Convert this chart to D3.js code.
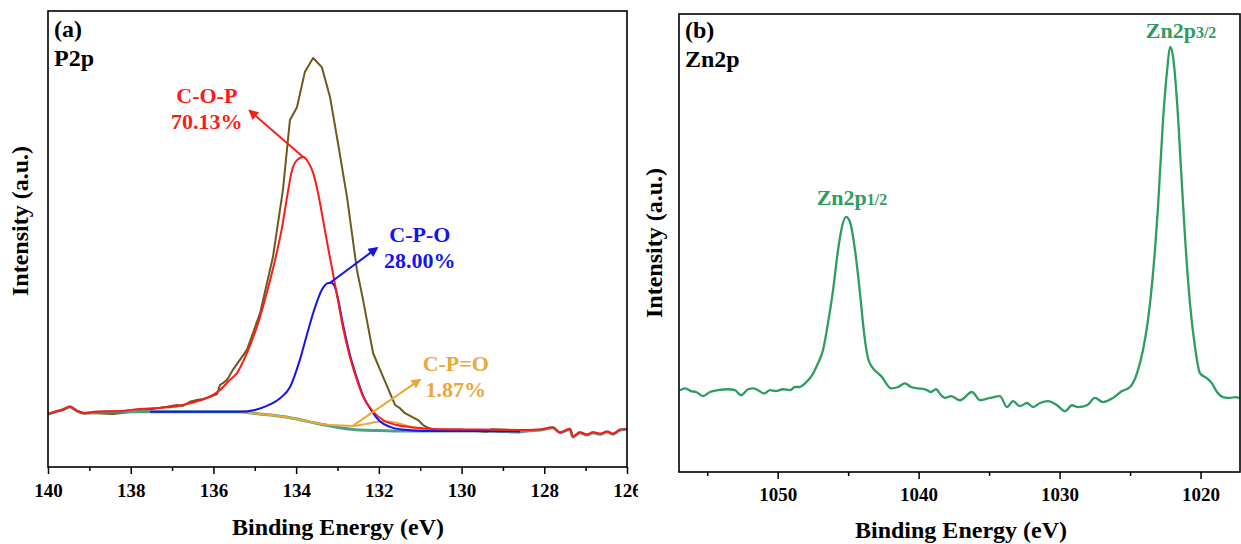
<!DOCTYPE html>
<html><head><meta charset="utf-8">
<script src="https://cdn.jsdelivr.net/npm/d3@7"></script>
<style>
body{margin:0;background:#fff;}
svg text{font-family:"Liberation Serif","Times New Roman",serif;font-weight:bold;}
</style></head><body>
<svg id="chart" width="1241" height="544"></svg>
<script>
// ---------------- DATA ----------------
const p2pTicks = [140,138,136,134,132,130,128,126];
const p2pMinorTicks = [139,137,135,133,131,129,127];
const zn2pTicks = [1050,1040,1030,1020];
const zn2pMinorTicks = [1055,1045,1035,1025];

// P2p: [binding energy (eV), intensity (a.u.)]
const p2pEnvelope = [[140.00,11.6],[139.83,12.1],[139.66,12.5],[139.47,13.2],[139.30,12.3],[139.13,11.8],[138.82,11.8],[138.43,11.6],[137.78,12.3],[137.36,12.9],[137.12,13.2],[136.88,13.6],[136.74,13.4],[136.57,14.3],[136.40,14.7],[136.25,14.9],[136.08,15.4],[135.91,16.0],[135.84,18.0],[135.77,18.4],[135.67,19.1],[135.53,21.3],[135.19,25.7],[134.87,33.8],[134.56,46.1],[134.32,60.7],[134.15,76.1],[133.98,78.9],[133.79,86.6],[133.59,89.7],[133.38,87.7],[133.18,81.1],[132.99,71.1],[132.77,59.2],[132.53,43.2],[132.38,36.6],[132.29,32.2],[132.14,25.0],[131.97,21.3],[131.73,16.2],[131.61,13.6],[131.49,12.9],[131.37,11.8],[131.20,11.0],[131.05,10.3],[130.93,9.2],[130.81,8.6],[130.69,8.3],[130.04,8.2],[129.39,7.7],[129.27,8.3],[128.59,8.1],[128.10,8.1],[127.79,8.6],[127.62,7.5],[127.38,8.3],[127.31,6.6],[127.14,7.5],[126.97,7.0],[126.82,7.5],[126.65,7.2],[126.48,7.7],[126.34,7.2],[126.17,8.1],[126.00,8.3]];
const p2pBackground = [[140.00,11.6],[139.83,12.1],[139.66,12.5],[139.47,13.2],[139.30,12.3],[139.13,11.8],[138.86,12.0],[138.26,12.1],[137.29,12.1],[136.33,12.1],[135.36,12.1],[135.04,11.8],[134.63,11.4],[134.15,10.8],[133.67,9.9],[133.30,9.2],[132.94,8.6],[132.46,8.1],[131.97,8.0],[131.25,7.9],[130.52,7.9],[130.04,7.9],[129.56,7.9],[129.07,7.8],[128.59,7.7],[128.42,7.9],[128.10,8.1],[127.79,8.6],[127.62,7.5],[127.38,8.3],[127.31,6.6],[127.14,7.5],[126.97,7.0],[126.82,7.5],[126.65,7.2],[126.48,7.7],[126.34,7.2],[126.17,8.1],[126.00,8.3]];
const p2pCOP = [[140.00,11.6],[139.83,12.1],[139.66,12.5],[139.47,13.2],[139.30,12.3],[139.13,11.8],[138.86,12.1],[138.26,12.3],[137.78,12.7],[136.98,13.2],[136.57,14.0],[136.16,15.1],[135.84,16.9],[135.60,19.1],[135.43,20.6],[135.19,25.0],[134.95,30.7],[134.71,38.2],[134.51,45.4],[134.34,52.6],[134.22,59.2],[134.10,65.1],[133.98,67.3],[133.83,68.0],[133.71,66.9],[133.59,64.5],[133.47,60.1],[133.35,54.2],[133.23,48.2],[133.11,42.5],[132.99,36.6],[132.87,30.7],[132.70,24.1],[132.53,19.1],[132.38,15.4],[132.17,12.5],[131.90,10.3],[131.56,9.2],[131.08,8.6],[130.59,8.3],[129.56,8.2],[128.42,8.1],[128.10,8.2],[127.79,8.7],[127.62,7.6],[127.38,8.4],[127.31,6.7],[127.14,7.6],[126.97,7.1],[126.82,7.6],[126.65,7.3],[126.48,7.8],[126.34,7.3],[126.17,8.2],[126.00,8.4]];
const p2pCPO = [[137.53,12.1],[136.33,12.1],[135.36,12.1],[135.00,12.5],[134.71,13.4],[134.39,15.1],[134.15,17.5],[133.91,23.5],[133.71,30.0],[133.54,35.1],[133.38,38.8],[133.24,40.3],[133.15,40.4],[133.07,39.6],[132.99,37.0],[132.87,31.4],[132.70,24.6],[132.53,19.5],[132.38,15.6],[132.17,12.2],[131.97,10.0],[131.73,8.8],[131.42,8.2],[130.93,7.9],[130.45,7.9],[129.56,7.9],[128.59,7.8]];
const p2pCPdO = [[135.36,12.1],[135.04,11.8],[134.63,11.4],[134.15,10.8],[133.67,9.9],[133.30,9.3],[132.94,9.1],[132.63,9.0],[132.33,9.4],[132.04,9.9],[131.78,10.0],[131.49,9.5],[131.20,8.8],[130.88,8.2],[130.52,8.0],[129.80,7.9]];

// Zn2p: [binding energy (eV), intensity (a.u.)]
const zn2pSpectrum = [[1056.93,17.5],[1056.57,17.9],[1056.15,17.3],[1055.79,17.1],[1055.30,16.2],[1054.80,17.1],[1054.23,17.5],[1053.52,17.7],[1053.03,17.5],[1052.60,16.4],[1052.10,17.7],[1051.75,17.9],[1051.40,17.5],[1050.97,16.8],[1050.54,17.5],[1050.12,17.3],[1049.62,17.7],[1049.12,17.5],[1048.77,18.2],[1048.42,18.2],[1048.06,19.0],[1047.64,20.4],[1047.14,23.4],[1046.78,26.3],[1046.43,32.2],[1046.07,39.4],[1045.72,48.1],[1045.44,53.2],[1045.15,55.4],[1044.87,54.3],[1044.51,48.1],[1044.16,38.7],[1043.87,30.0],[1043.59,24.5],[1043.24,22.3],[1042.88,21.2],[1042.60,20.4],[1042.31,19.0],[1041.96,17.9],[1041.46,18.2],[1040.97,19.0],[1040.54,18.2],[1040.04,17.9],[1039.55,17.7],[1039.12,17.1],[1038.77,17.7],[1038.41,16.4],[1038.13,15.8],[1037.70,16.2],[1037.06,15.3],[1036.21,17.1],[1035.64,15.3],[1034.94,15.8],[1034.23,16.2],[1033.73,13.8],[1033.30,15.1],[1032.81,14.0],[1032.31,14.7],[1031.88,13.8],[1031.39,14.7],[1030.82,15.1],[1030.18,14.2],[1029.61,12.9],[1029.12,14.2],[1028.69,13.8],[1028.05,14.2],[1027.49,15.8],[1026.92,14.9],[1026.21,15.8],[1025.57,17.3],[1025.00,18.2],[1024.51,21.2],[1024.08,26.3],[1023.73,32.8],[1023.37,43.1],[1023.02,57.5],[1022.66,76.6],[1022.37,87.5],[1022.16,92.6],[1021.95,90.4],[1021.66,80.3],[1021.38,65.6],[1021.10,51.0],[1020.75,36.5],[1020.39,26.9],[1020.04,21.2],[1019.54,20.1],[1019.19,19.0],[1018.83,17.1],[1018.41,16.0],[1017.91,15.8],[1017.54,16.0],[1017.26,15.8]];

// annotations (text, arrow start = peak, arrow tip, label anchor) in data space
const p2pLabels = [
  {name:"C-O-P", pct:"70.13%", color:"#ff1a1a", from:[133.83,68.0], to:[135.12,78.1], at:[136.16,79.8]},
  {name:"C-P-O", pct:"28.00%", color:"#1414f0", from:[133.18,40.4], to:[132.05,48.0], at:[131.01,49.3]},
  {name:"C-P=O", pct:"1.87%",  color:"#e8a93a", from:[132.65,8.9],  to:[131.01,19.1], at:[130.14,21.1]}
];
const zn2pLabels = [
  {main:"Zn2p", sub:"1/2", at:[1044.73,58.0]},
  {main:"Zn2p", sub:"3/2", at:[1021.38,94.5]}
];

// ---------------- LAYOUT ----------------
const svg = d3.select("#chart");
const A = {l:48, r:627, t:11, b:467};
const B = {l:679, r:1240, t:14, b:472};

const xA = d3.scaleLinear().domain([140,126]).range([A.l,A.r]);
const yA = d3.scaleLinear().domain([0,100]).range([A.b,A.t]);
const xB = d3.scaleLinear().domain([1057,1017.2]).range([B.l,B.r]);
const yB = d3.scaleLinear().domain([-0.4,99.8]).range([B.b,B.t]);

const defs = svg.append("defs");
defs.append("clipPath").attr("id","clipA").append("rect").attr("x",0).attr("y",0).attr("width",638).attr("height",544);
p2pLabels.forEach((d,i)=>{
  defs.append("marker").attr("id","arr"+i).attr("viewBox","0 0 10 10").attr("refX",8).attr("refY",5)
    .attr("markerWidth",13).attr("markerHeight",10).attr("markerUnits","userSpaceOnUse").attr("orient","auto")
    .append("path").attr("d","M0,0 L10,5 L0,10 Z").attr("fill",d.color);
});

function frame(g,P){
  g.append("rect").attr("x",P.l).attr("y",P.t).attr("width",P.r-P.l).attr("height",P.b-P.t)
    .attr("fill","none").attr("stroke","#000").attr("stroke-width",1.6);
}
function xAxis(g,P,x,major,minor,pad){
  const ax = g.append("g").attr("transform",`translate(0,${P.b})`)
    .call(d3.axisBottom(x).tickValues(major).tickSize(7).tickPadding(pad).tickFormat(d3.format("d")));
  ax.select(".domain").remove();
  ax.selectAll("line").attr("stroke-width",1.5);
  ax.selectAll("text").attr("font-size",19).attr("fill","#000")
    .style("font-family",'"Liberation Serif",serif').style("font-weight","bold");
  const mn = g.append("g").attr("transform",`translate(0,${P.b})`)
    .call(d3.axisBottom(x).tickValues(minor).tickSize(4).tickFormat(""));
  mn.select(".domain").remove();
  mn.selectAll("line").attr("stroke-width",1.5);
}

// ---------------- PANEL A ----------------
const gA = svg.append("g").attr("clip-path","url(#clipA)");
const lineA = d3.line().x(d=>xA(d[0])).y(d=>yA(d[1]));
const smoothA = d3.line().x(d=>xA(d[0])).y(d=>yA(d[1])).curve(d3.curveMonotoneX);

gA.append("path").datum(p2pEnvelope).attr("d",lineA).attr("fill","none").attr("stroke","#6e5a1c").attr("stroke-width",2).attr("stroke-linejoin","round");
gA.append("path").datum(p2pBackground).attr("d",smoothA).attr("fill","none").attr("stroke","#4f9f86").attr("stroke-width",3).attr("stroke-linejoin","round");
gA.append("path").datum(p2pCPdO).attr("d",smoothA).attr("fill","none").attr("stroke","#e8a93a").attr("stroke-width",2);
gA.append("path").datum(p2pCPO).attr("d",smoothA).attr("fill","none").attr("stroke","#1414f0").attr("stroke-width",2);
gA.append("path").datum(p2pCOP).attr("d",smoothA).attr("fill","none").attr("stroke","#ff1a1a").attr("stroke-width",2).attr("stroke-linejoin","round");

p2pLabels.forEach((d,i)=>{
  gA.append("line").attr("x1",xA(d.from[0])).attr("y1",yA(d.from[1])).attr("x2",xA(d.to[0])).attr("y2",yA(d.to[1]))
    .attr("stroke",d.color).attr("stroke-width",2).attr("marker-end",`url(#arr${i})`);
  const t = gA.append("text").attr("x",xA(d.at[0])).attr("y",yA(d.at[1])).attr("text-anchor","middle")
    .attr("font-size",22).attr("fill",d.color);
  t.append("tspan").attr("x",xA(d.at[0])).text(d.name);
  t.append("tspan").attr("x",xA(d.at[0])).attr("dy",26).text(d.pct);
});

frame(gA,A);
xAxis(gA,A,xA,p2pTicks,p2pMinorTicks,10);
gA.append("text").attr("x",54).attr("y",37).attr("font-size",24).text("(a)");
gA.append("text").attr("x",54).attr("y",66).attr("font-size",24).text("P2p");
gA.append("text").attr("x",(A.l+A.r)/2+0.5).attr("y",535).attr("text-anchor","middle").attr("font-size",24).text("Binding Energy (eV)");
gA.append("text").attr("transform","translate(28,221) rotate(-90)").attr("text-anchor","middle").attr("font-size",24).text("Intensity (a.u.)");

// ---------------- PANEL B ----------------
const gB = svg.append("g");
const lineB = d3.line().x(d=>xB(d[0])).y(d=>yB(d[1])).curve(d3.curveMonotoneX);
gB.append("path").datum(zn2pSpectrum).attr("d",lineB).attr("fill","none").attr("stroke","#2f9c62").attr("stroke-width",2.3).attr("stroke-linejoin","round");

zn2pLabels.forEach(d=>{
  const t = gB.append("text").attr("x",xB(d.at[0])).attr("y",yB(d.at[1])).attr("text-anchor","middle")
    .attr("font-size",22).attr("fill","#2f9c62");
  t.append("tspan").text(d.main);
  t.append("tspan").attr("font-size",16).text(d.sub);
});

frame(gB,B);
xAxis(gB,B,xB,zn2pTicks,zn2pMinorTicks,9);
gB.append("text").attr("x",685).attr("y",38).attr("font-size",24).text("(b)");
gB.append("text").attr("x",685).attr("y",67).attr("font-size",24).text("Zn2p");
gB.append("text").attr("x",961).attr("y",538).attr("text-anchor","middle").attr("font-size",24).text("Binding Energy (eV)");
gB.append("text").attr("transform","translate(662,243) rotate(-90)").attr("text-anchor","middle").attr("font-size",24).text("Intensity (a.u.)");
</script>
</body></html>
